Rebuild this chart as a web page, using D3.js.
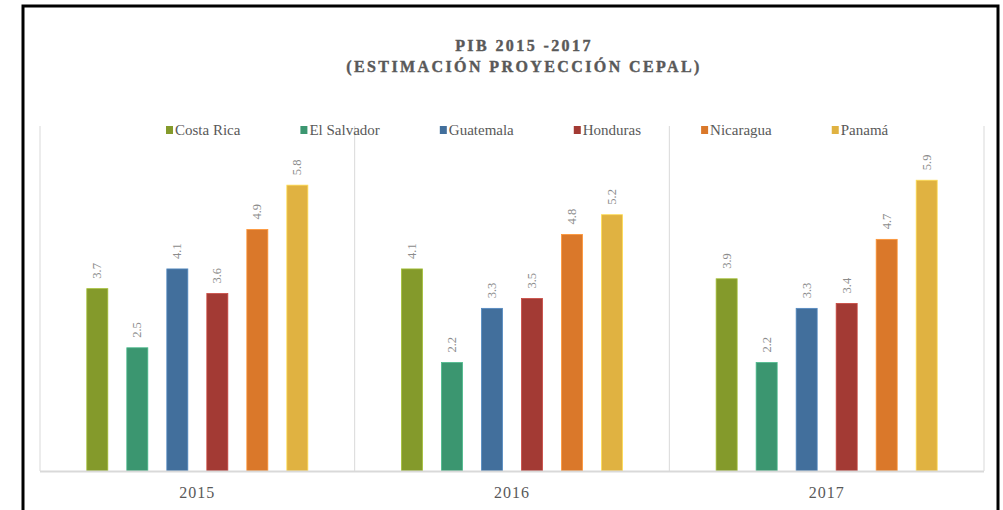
<!DOCTYPE html>
<html>
<head>
<meta charset="utf-8">
<script src="https://cdn.jsdelivr.net/npm/d3@7"></script>
<style>
  body {margin: 0; background: #fff;}
  svg {display: block; font-family: 'Liberation Serif', serif;}
</style>
</head>
<body>
<div id="chart"></div>
<script>

var years = ['2015', '2016', '2017']
var countries = ['Costa Rica', 'El Salvador', 'Guatemala', 'Honduras', 'Nicaragua', 'Panamá']
var colors = ['#849a2b', '#3b9670', '#426f9c', '#a33a34', '#da782a', '#e0b241']

var costaRica  = [3.7, 4.1, 3.9]
var elSalvador = [2.5, 2.2, 2.2]
var guatemala  = [4.1, 3.3, 3.3]
var honduras   = [3.6, 3.5, 3.4]
var nicaragua  = [4.9, 4.8, 4.7]
var panama     = [5.8, 5.2, 5.9]

var series = [costaRica, elSalvador, guatemala, honduras, nicaragua, panama]

var rows = []
years.forEach((year, i) => {
  countries.forEach((country, j) => {
    rows.push({year, country, value: series[j][i], color: colors[j]})
  })
})

var width = 1003, height = 510
var plot = {left: 40, right: 984, top: 126, bottom: 471}

var svg = d3.select('#chart').append('svg')
  .attr('width', width).attr('height', height)

// frame
svg.append('rect')
  .attr('x', 23).attr('y', 6)
  .attr('width', 975).attr('height', 520)
  .attr('fill', 'none').attr('stroke', '#000').attr('stroke-width', 3)

// title
var title = svg.append('text')
  .attr('text-anchor', 'middle')
  .attr('fill', '#595959')
  .attr('font-weight', 'bold')
  .attr('font-size', 16)
  .attr('letter-spacing', 2.4)
  .attr('stroke', '#595959')
  .attr('stroke-width', 0.4)
title.append('tspan').attr('x', 524).attr('y', 51).text('PIB 2015 -2017')
title.append('tspan').attr('x', 524).attr('y', 72).text('(ESTIMACIÓN PROYECCIÓN CEPAL)')

var x0 = d3.scaleBand()
  .domain(years)
  .range([plot.left, plot.right])

var x1 = d3.scaleBand()
  .domain(countries)
  .range([0, x0.bandwidth()])
  .paddingInner(0.475)
  .paddingOuter(1.17)

var y = d3.scaleLinear()
  .domain([0, 7])
  .range([plot.bottom, plot.top])

// vertical separators
svg.append('g')
  .selectAll('line')
  .data(years.concat(['end']))
  .join('line')
  .attr('x1', (d, i) => i < years.length ? x0(d) : plot.right)
  .attr('x2', (d, i) => i < years.length ? x0(d) : plot.right)
  .attr('y1', plot.top).attr('y2', plot.bottom)
  .attr('stroke', '#d9d9d9').attr('stroke-width', 1)

// bars
svg.append('g')
  .selectAll('rect')
  .data(rows)
  .join('rect')
  .attr('x', d => x0(d.year) + x1(d.country))
  .attr('y', d => y(d.value))
  .attr('width', x1.bandwidth())
  .attr('height', d => y(0) - y(d.value))
  .attr('fill', d => d.color)
  .attr('stroke', d => d3.color(d.color).brighter(0.6))
  .attr('stroke-width', 0.8)

// value labels
svg.append('g')
  .selectAll('text')
  .data(rows)
  .join('text')
  .attr('transform', d => {
    var cx = x0(d.year) + x1(d.country) + x1.bandwidth() / 2
    return `translate(${cx + 4},${y(d.value) - 10}) rotate(-90)`
  })
  .attr('font-size', 12.5)
  .attr('fill', '#8c8c8c')
  .text(d => d.value.toFixed(1))

// baseline
svg.append('line')
  .attr('x1', plot.left).attr('x2', plot.right)
  .attr('y1', plot.bottom + 0.5).attr('y2', plot.bottom + 0.5)
  .attr('stroke', '#d9d9d9').attr('stroke-width', 2)

// year labels
svg.append('g')
  .selectAll('text')
  .data(years)
  .join('text')
  .attr('x', d => x0(d) + x0.bandwidth() / 2)
  .attr('y', 498)
  .attr('text-anchor', 'middle')
  .attr('font-size', 16)
  .attr('letter-spacing', 1)
  .attr('fill', '#595959')
  .text(d => d)

// legend, laid out from measured text widths
var legendSel = svg.append('g')
  .selectAll('g')
  .data(countries)
  .join('g')

legendSel.append('rect')
  .attr('x', 0).attr('y', -4)
  .attr('width', 7).attr('height', 8)
  .attr('fill', (d, i) => colors[i])

legendSel.append('text')
  .attr('x', 9).attr('y', 5)
  .attr('font-size', 15)
  .attr('fill', '#595959')
  .text(d => d)

var lx = 166
legendSel.each(function(){
  var sel = d3.select(this)
  sel.attr('transform', `translate(${lx},130)`)
  lx += 9 + sel.select('text').node().getComputedTextLength() + 60
})

</script>
</body>
</html>
